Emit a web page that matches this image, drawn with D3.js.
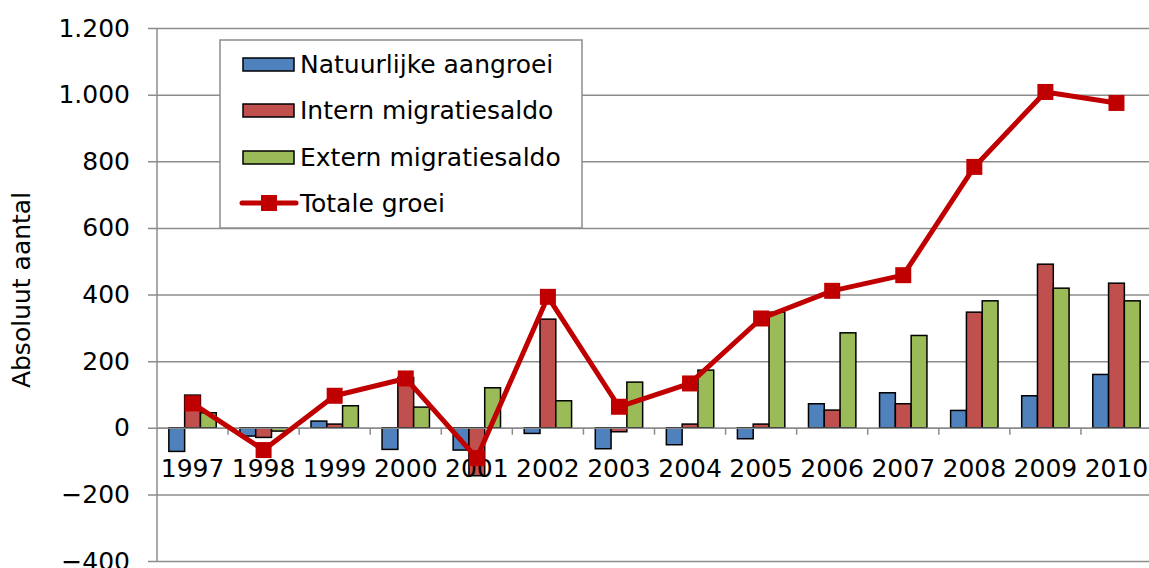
<!DOCTYPE html>
<html>
<head>
<meta charset="utf-8">
<script src="https://cdn.jsdelivr.net/npm/d3@7"></script>
<style>
  html, body { margin: 0; padding: 0; background: #fff; }
  svg { display: block; font-family: "DejaVu Sans", sans-serif; }
</style>
</head>
<body>
<div id="chart"></div>
<script>
// data
var years = ["1997","1998","1999","2000","2001","2002","2003","2004","2005","2006","2007","2008","2009","2010"];
var seriesNames = ["Natuurlijke aangroei", "Intern migratiesaldo", "Extern migratiesaldo"];
var natuurlijk = [-71, -25, 20, -65, -67, -17, -63, -51, -33, 72, 105, 52, 96, 160];
var intern = [98, -29, 11, 151, -144, 326, -12, 11, 11, 53, 72, 347, 491, 434];
var extern = [45, -10, 66, 62, 120, 81, 137, 173, 347, 285, 277, 381, 419, 381];
var totaal = [73, -67, 96, 148, -91, 393, 63, 133, 328, 411, 458, 783, 1008, 975];
var yTicks = [-400, -200, 0, 200, 400, 600, 800, 1000, 1200];
var lineName = "Totale groei";

var barColors = ["#4f81bd", "#c0504d", "#9bbb59"];
var lineColor = "#c00000";
var gridColor = "#8c8c8c";

var width = 1149, height = 568;
var plotLeft = 157, plotRight = 1152, plotTop = 28, plotBottom = 561;

var locale = d3.formatLocale({decimal: ",", thousands: ".", grouping: [3], currency: ["€", ""], minus: "\u2212"});
var fmt = locale.format(",d");

var svg = d3.select("#chart").append("svg")
    .attr("width", width)
    .attr("height", height);

var x = d3.scaleBand().domain(years).range([plotLeft, plotRight]);
var x1 = d3.scaleBand().domain(d3.range(3))
    .range([0, x.bandwidth()])
    .paddingOuter(0.75).paddingInner(0);
var y = d3.scaleLinear().domain([-400, 1200]).range([plotBottom, plotTop]);

// gridlines + y ticks
var yAxis = d3.axisLeft(y).tickValues(yTicks).tickFormat(fmt)
    .tickSize(-(plotRight - plotLeft)).tickSizeOuter(0).tickPadding(0);
var gy = svg.append("g")
    .attr("transform", "translate(" + plotLeft + ",0)")
    .call(yAxis);
gy.select(".domain").remove();
gy.selectAll(".tick line")
    .attr("x1", -9)
    .attr("stroke", gridColor)
    .attr("stroke-width", 1.5);
gy.selectAll(".tick text")
    .attr("x", -27)
    .attr("font-size", 25)
    .attr("fill", "#000")
    .attr("font-family", "DejaVu Sans, sans-serif");

// left axis line
svg.append("line")
    .attr("x1", plotLeft).attr("x2", plotLeft)
    .attr("y1", plotTop).attr("y2", plotBottom)
    .attr("stroke", gridColor).attr("stroke-width", 1.5);

// y axis title
svg.append("text")
    .attr("transform", "translate(30," + 290 + ") rotate(-90)")
    .attr("text-anchor", "middle")
    .attr("font-size", 25)
    .text("Absoluut aantal");

// bars
var rows = years.map(function(yr, i){
    return {year: yr, vals: [natuurlijk[i], intern[i], extern[i]]};
});
var groups = svg.append("g").selectAll("g")
    .data(rows)
    .enter().append("g")
    .attr("transform", function(d){ return "translate(" + x(d.year) + ",0)"; });
groups.selectAll("rect")
    .data(function(d){ return d.vals; })
    .enter().append("rect")
    .attr("x", function(d, i){ return x1(i); })
    .attr("width", x1.bandwidth())
    .attr("y", function(d){ return y(Math.max(0, d)); })
    .attr("height", function(d){ return Math.abs(y(d) - y(0)); })
    .attr("fill", function(d, i){ return barColors[i]; })
    .attr("stroke", "#000")
    .attr("stroke-width", 1.5);

// category axis at zero
var xAxis = d3.axisBottom(x).tickSize(0).tickSizeOuter(0);
var gx = svg.append("g")
    .attr("transform", "translate(0," + y(0) + ")")
    .call(xAxis);
gx.select(".domain").attr("stroke", gridColor).attr("stroke-width", 1.5);
gx.selectAll(".tick text")
    .attr("y", 0)
    .attr("dy", 49)
    .attr("font-size", 25)
    .attr("fill", "#000")
    .attr("font-family", "DejaVu Sans, sans-serif");
// small tick marks between categories
svg.append("g").selectAll("line")
    .data(years.slice(1))
    .enter().append("line")
    .attr("x1", function(d){ return x(d); })
    .attr("x2", function(d){ return x(d); })
    .attr("y1", y(0)).attr("y2", y(0) + 7)
    .attr("stroke", gridColor).attr("stroke-width", 1.5);

// total line
var line = d3.line()
    .x(function(d, i){ return x(years[i]) + x.bandwidth() / 2; })
    .y(function(d){ return y(d); });
svg.append("path")
    .datum(totaal)
    .attr("d", line)
    .attr("fill", "none")
    .attr("stroke", lineColor)
    .attr("stroke-width", 5)
    .attr("stroke-linejoin", "round");
svg.append("g").selectAll("rect")
    .data(totaal)
    .enter().append("rect")
    .attr("x", function(d, i){ return x(years[i]) + x.bandwidth() / 2 - 8; })
    .attr("y", function(d){ return y(d) - 8; })
    .attr("width", 16).attr("height", 16)
    .attr("fill", lineColor);

// legend
var legend = svg.append("g");
legend.append("rect")
    .attr("x", 220).attr("y", 40)
    .attr("width", 362).attr("height", 188)
    .attr("fill", "#fff")
    .attr("stroke", gridColor).attr("stroke-width", 1.5);
var rowY = [64, 110, 157, 203];
seriesNames.forEach(function(name, i){
    legend.append("rect")
        .attr("x", 243).attr("y", rowY[i] - 6)
        .attr("width", 51).attr("height", 13)
        .attr("fill", barColors[i])
        .attr("stroke", "#000").attr("stroke-width", 1.5);
    legend.append("text")
        .attr("x", 300).attr("y", rowY[i])
        .attr("dy", "0.35em")
        .attr("font-size", 25)
        .text(name);
});
legend.append("line")
    .attr("x1", 242).attr("x2", 296)
    .attr("y1", rowY[3]).attr("y2", rowY[3])
    .attr("stroke", lineColor).attr("stroke-width", 5)
    .attr("stroke-linecap", "round");
legend.append("rect")
    .attr("x", 261).attr("y", rowY[3] - 8)
    .attr("width", 16).attr("height", 16)
    .attr("fill", lineColor);
legend.append("text")
    .attr("x", 300).attr("y", rowY[3])
    .attr("dy", "0.35em")
    .attr("font-size", 25)
    .text(lineName);
</script>
</body>
</html>
